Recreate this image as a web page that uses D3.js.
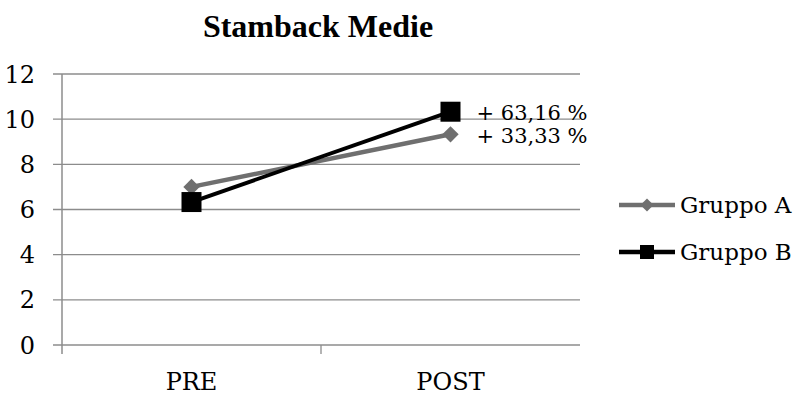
<!DOCTYPE html>
<html>
<head>
<meta charset="utf-8">
<script src="https://cdn.jsdelivr.net/npm/d3@7"></script>
<style>
  body { margin: 0; background: #fff; }
  svg { display: block; }
</style>
</head>
<body>
<div id="chart"></div>
<script>
// data
const categories = ["PRE", "POST"];
const gruppoA = [7.0, 9.33];
const gruppoB = [6.33, 10.33];
const seriesNames = ["Gruppo A", "Gruppo B"];
const changeLabels = ["+ 33,33 %", "+ 63,16 %"];
const yTicks = [0, 2, 4, 6, 8, 10, 12];

const W = 795, H = 395;
const margin = {top: 74, right: 215, bottom: 50, left: 62};
const width = W - margin.left - margin.right;
const height = H - margin.top - margin.bottom;

const svg = d3.select("#chart").append("svg")
    .attr("width", W)
    .attr("height", H);

const g = svg.append("g")
    .attr("transform", "translate(" + margin.left + "," + margin.top + ")");

const x = d3.scaleBand().domain(categories).range([0, width]);
const y = d3.scaleLinear().domain([0, 12]).range([height, 0]);

const serif = "'DejaVu Serif', serif";
const titleFont = "'Liberation Serif', serif";

// title
svg.append("text")
    .attr("x", 318)
    .attr("y", 37)
    .attr("text-anchor", "middle")
    .style("font-family", titleFont)
    .style("font-weight", "bold")
    .style("font-size", "32px")
    .text("Stamback Medie");

// gridlines
g.append("g")
    .selectAll("line")
    .data(yTicks)
    .enter().append("line")
    .attr("x1", -9)
    .attr("x2", width)
    .attr("y1", d => y(d))
    .attr("y2", d => y(d))
    .attr("stroke", "#8c8c8c")
    .attr("stroke-width", 1.3);

// y axis line
g.append("line")
    .attr("x1", 0).attr("x2", 0)
    .attr("y1", 0).attr("y2", height + 9)
    .attr("stroke", "#8c8c8c")
    .attr("stroke-width", 1.5);

// y tick labels
g.append("g")
    .selectAll("text")
    .data(yTicks)
    .enter().append("text")
    .attr("x", -27)
    .attr("y", d => y(d))
    .attr("dy", "0.36em")
    .attr("text-anchor", "end")
    .style("font-family", serif)
    .style("font-size", "24px")
    .text(d => d);

// x ticks: boundaries between categories
g.append("g")
    .selectAll("line")
    .data([x.step()])
    .enter().append("line")
    .attr("x1", d => d).attr("x2", d => d)
    .attr("y1", height).attr("y2", height + 9)
    .attr("stroke", "#8c8c8c")
    .attr("stroke-width", 1.3);

g.append("g")
    .selectAll("text")
    .data(categories)
    .enter().append("text")
    .attr("x", d => x(d) + x.bandwidth() / 2)
    .attr("y", height + 45)
    .attr("text-anchor", "middle")
    .style("font-family", serif)
    .style("font-size", "24px")
    .text(d => d);

const cx = (d, i) => x(categories[i]) + x.bandwidth() / 2;
const line = d3.line().x(cx).y(d => y(d));

// Gruppo A (grey, diamond)
g.append("path")
    .datum(gruppoA)
    .attr("d", line)
    .attr("fill", "none")
    .attr("stroke", "#6f6f6f")
    .attr("stroke-width", 4.5);

g.append("g")
    .selectAll("path")
    .data(gruppoA)
    .enter().append("path")
    .attr("d", d3.symbol().type(d3.symbolDiamond2).size(170))
    .attr("transform", (d, i) => "translate(" + cx(d, i) + "," + y(d) + ")")
    .attr("fill", "#6f6f6f");

// Gruppo B (black, square)
g.append("path")
    .datum(gruppoB)
    .attr("d", line)
    .attr("fill", "none")
    .attr("stroke", "#000")
    .attr("stroke-width", 4);

g.append("g")
    .selectAll("rect")
    .data(gruppoB)
    .enter().append("rect")
    .attr("x", (d, i) => cx(d, i) - 10)
    .attr("y", d => y(d) - 10)
    .attr("width", 20)
    .attr("height", 20)
    .attr("fill", "#000");

// change labels next to POST values
const lastIdx = categories.length - 1;
g.append("text")
    .attr("x", cx(null, lastIdx) + 26)
    .attr("y", y(gruppoB[lastIdx]) + 8)
    .style("font-family", serif)
    .style("font-size", "21px")
    .text(changeLabels[1]);

g.append("text")
    .attr("x", cx(null, lastIdx) + 26)
    .attr("y", y(gruppoB[lastIdx]) + 31)
    .style("font-family", serif)
    .style("font-size", "21px")
    .text(changeLabels[0]);

// legend
const legend = svg.append("g").attr("transform", "translate(619,205)");
const legendColors = ["#6f6f6f", "#000"];

seriesNames.forEach(function(name, i) {
    const row = legend.append("g").attr("transform", "translate(0," + i * 47 + ")");
    row.append("line")
        .attr("x1", 0).attr("x2", 56)
        .attr("stroke", legendColors[i])
        .attr("stroke-width", 4.5);
    if (i === 0) {
        row.append("path")
            .attr("d", d3.symbol().type(d3.symbolDiamond2).size(110))
            .attr("transform", "translate(28,0)")
            .attr("fill", legendColors[i]);
    } else {
        row.append("rect")
            .attr("x", 21).attr("y", -7)
            .attr("width", 14).attr("height", 14)
            .attr("fill", legendColors[i]);
    }
    row.append("text")
        .attr("x", 61)
        .attr("dy", "0.36em")
        .style("font-family", serif)
        .style("font-size", "23px")
        .text(name);
});
</script>
</body>
</html>
